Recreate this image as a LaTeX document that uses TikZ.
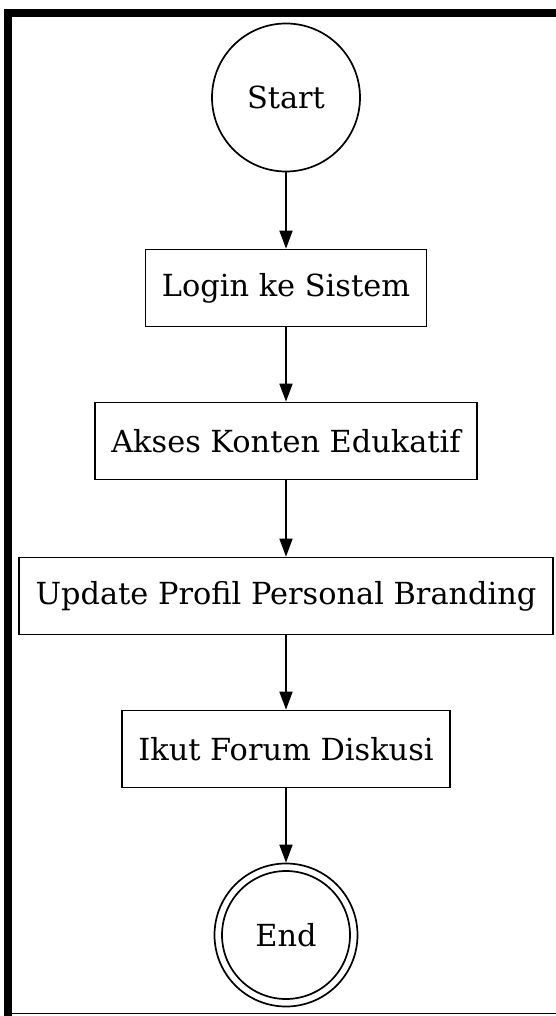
\documentclass[tikz,border=0pt]{standalone}
\usepackage{fontspec}
\setmainfont{DejaVu Serif}
\usetikzlibrary{arrows.meta}

\begin{document}
\begin{tikzpicture}[x=1pt, y=-1pt, >={Triangle[length=9pt, width=6.5pt]},
      font=\fontsize{15.2}{18}\selectfont,
      act/.style={draw, line width=0.85pt, minimum height=38.5pt, inner sep=0pt, align=center},
      term/.style={draw, circle, line width=0.85pt, inner sep=0pt},
      arr/.style={->, line width=0.85pt}]
    \useasboundingbox (0,0) rectangle (278,508);
    % frame
    \draw[line width=4pt] (4,508) -- (4,6.5) -- (278,6.5);
    \draw[line width=0.6pt] (6,506.8) -- (278,506.8);
    % flow
    \node[term, minimum size=74pt] (start) at (143,48.75) {Start};
    \node[act, minimum width=140.5pt] (login) at (143,144) {Login ke Sistem};
    \node[act, minimum width=191pt] (akses) at (143,220.5) {Akses Konten Edukatif};
    \node[act, minimum width=267pt] (profil) at (143,298) {Update Profil Personal Branding};
    \node[act, minimum width=164pt] (forum) at (143,374.5) {Ikut Forum Diskusi};
    \node[term, minimum size=71.5pt] (end) at (143,467.5) {End};
    \draw[line width=0.85pt] (end.center) circle[radius=32pt];
    \draw[arr] (start) -- (login);
    \draw[arr] (login) -- (akses);
    \draw[arr] (akses) -- (profil);
    \draw[arr] (profil) -- (forum);
    \draw[arr] (forum) -- (end);
\end{tikzpicture}
\end{document}
